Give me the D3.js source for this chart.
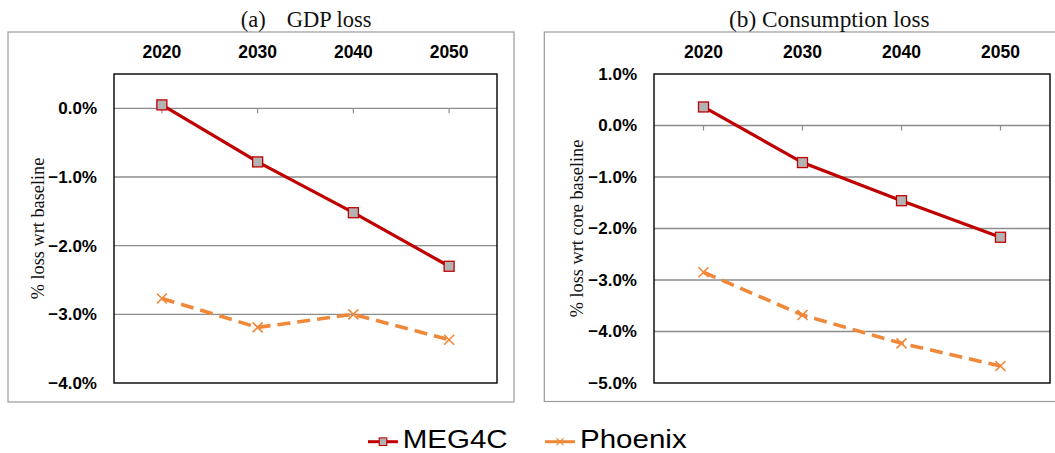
<!DOCTYPE html>
<html>
<head>
<meta charset="utf-8">
<script src="https://cdn.jsdelivr.net/npm/d3@7/dist/d3.min.js"></script>
<style>
  html, body { margin: 0; padding: 0; background: #fff; }
  svg { display: block; }
</style>
</head>
<body>
<svg id="chart" width="1055" height="453"></svg>
<script>
// Years shown along the top of both panels
const years = ["2020", "2030", "2040", "2050"];

// (a) GDP loss, % vs baseline
const gdpMEG4C   = [0.05, -0.78, -1.52, -2.30];
const gdpPhoenix = [-2.77, -3.19, -3.00, -3.37];
const gdpTicks   = [0, -1, -2, -3, -4];

// (b) Consumption loss, % vs core baseline
const consMEG4C   = [0.36, -0.72, -1.46, -2.17];
const consPhoenix = [-2.85, -3.68, -4.23, -4.67];
const consTicks   = [1, 0, -1, -2, -3, -4, -5];

const seriesNames = ["MEG4C", "Phoenix"];

const RED = "#c00000";
const ORANGE = "#f0883a";
const SANS = "Liberation Sans, Arial, sans-serif";
const SERIF = "Liberation Serif, Times New Roman, serif";

const svg = d3.select("#chart");
const pct = d3.format(".1%");

function drawPanel(p) {
  // outer frame
  svg.append("rect")
    .attr("x", p.frame[0]).attr("y", p.frame[1])
    .attr("width", p.frame[2]).attr("height", p.frame[3])
    .attr("fill", "none").attr("stroke", "#9a9a9a").attr("stroke-width", 1.2);

  // title
  p.title.forEach(t => {
    svg.append("text")
      .attr("x", t.x).attr("y", 27)
      .attr("font-family", SERIF).attr("font-size", t.size)
      .attr("fill", "#111")
      .text(t.text);
  });

  const x = d3.scaleBand().domain(years).range([p.left, p.right]).padding(0);
  const y = d3.scaleLinear().domain(p.domain).range([p.bottom, p.top]);
  const cx = d => x(d) + x.bandwidth() / 2;

  const g = svg.append("g");

  // horizontal gridlines
  g.selectAll("line.grid")
    .data(p.ticks.filter(v => v > p.domain[0] && v < p.domain[1]))
    .join("line")
    .attr("x1", p.left).attr("x2", p.right)
    .attr("y1", d => y(d)).attr("y2", d => y(d))
    .attr("stroke", "#8c8c8c").attr("stroke-width", 1.3);

  // category tick marks hanging below the zero line
  const zeroAxis = g.append("g")
    .attr("transform", `translate(0,${y(0)})`)
    .call(d3.axisBottom(x).tickSize(5).tickFormat(""));
  zeroAxis.select(".domain").remove();
  zeroAxis.selectAll(".tick line").attr("stroke", "#8c8c8c").attr("stroke-width", 1.2);

  // year labels along the top
  const topAxis = g.append("g")
    .attr("transform", `translate(0,${p.top})`)
    .call(d3.axisTop(x).tickSize(0).tickPadding(15.7));
  topAxis.select(".domain").remove();
  topAxis.selectAll("text")
    .attr("font-family", SANS).attr("font-size", 17.5)
    .attr("font-weight", "bold").attr("fill", "#000");

  // value axis labels
  const leftAxis = g.append("g")
    .attr("transform", `translate(${p.left},0)`)
    .call(d3.axisLeft(y).tickValues(p.ticks).tickSize(0).tickPadding(17)
      .tickFormat(v => pct(v / 100)));
  leftAxis.select(".domain").remove();
  leftAxis.selectAll("text")
    .attr("font-family", SANS).attr("font-size", 17)
    .attr("font-weight", "bold").attr("fill", "#000");

  // plot area border
  g.append("rect")
    .attr("x", p.left).attr("y", p.top)
    .attr("width", p.right - p.left).attr("height", p.bottom - p.top)
    .attr("fill", "none").attr("stroke", "#000").attr("stroke-width", 1.4);

  // axis title
  svg.append("text")
    .attr("transform", `translate(${p.ytitleX},${(p.top + p.bottom) / 2}) rotate(-90)`)
    .attr("text-anchor", "middle")
    .attr("font-family", SERIF).attr("font-size", 18.3)
    .attr("fill", "#111")
    .text(p.ytitle);

  const line = d3.line().x((d, i) => cx(years[i])).y(d => y(d));

  // Phoenix: dashed orange with crosses
  g.append("path")
    .datum(p.phoenix)
    .attr("d", line)
    .attr("fill", "none").attr("stroke", ORANGE)
    .attr("stroke-width", 3.6).attr("stroke-dasharray", "13,7");
  g.selectAll("path.cross")
    .data(p.phoenix)
    .join("path")
    .attr("transform", (d, i) => `translate(${cx(years[i])},${y(d)})`)
    .attr("d", "M-5,-5L5,5M-5,5L5,-5")
    .attr("stroke", ORANGE).attr("stroke-width", 1.6).attr("fill", "none");

  // MEG4C: solid red with grey squares
  g.append("path")
    .datum(p.meg4c)
    .attr("d", line)
    .attr("fill", "none").attr("stroke", RED).attr("stroke-width", 3.2);
  g.selectAll("rect.sq")
    .data(p.meg4c)
    .join("rect")
    .attr("x", (d, i) => cx(years[i]) - 5)
    .attr("y", d => y(d) - 5)
    .attr("width", 10).attr("height", 10)
    .attr("fill", "#b3b3b3").attr("stroke", RED).attr("stroke-width", 1.3);
}

drawPanel({
  frame: [8, 32, 506, 370],
  title: [{ x: 240.7, text: "(a)", size: 22.5 }, { x: 286.7, text: "GDP loss", size: 22.5 }],
  left: 114, right: 497, top: 74, bottom: 383,
  domain: [-4, 0.5],
  ticks: gdpTicks,
  meg4c: gdpMEG4C, phoenix: gdpPhoenix,
  ytitle: "% loss wrt baseline", ytitleX: 44
});

drawPanel({
  frame: [544.3, 32, 520, 369.5],
  title: [{ x: 729, text: "(b) Consumption loss", size: 23.3 }],
  left: 654, right: 1050, top: 74, bottom: 383,
  domain: [-5, 1],
  ticks: consTicks,
  meg4c: consMEG4C, phoenix: consPhoenix,
  ytitle: "% loss wrt core baseline", ytitleX: 583
});

// legend
const legend = svg.append("g");
const legY = 441.7;
const legItems = [
  { name: seriesNames[0], x0: 368, x1: 398, tx: 402.7, tw: 105, color: RED, mark: "square" },
  { name: seriesNames[1], x0: 545, x1: 575, tx: 580, tw: 106.7, color: ORANGE, mark: "cross" }
];
legItems.forEach(it => {
  legend.append("line")
    .attr("x1", it.x0).attr("x2", it.x1).attr("y1", legY).attr("y2", legY)
    .attr("stroke", it.color).attr("stroke-width", 3);
  const mx = (it.x0 + it.x1) / 2;
  if (it.mark === "square") {
    legend.append("rect")
      .attr("x", mx - 3.8).attr("y", legY - 3.8).attr("width", 7.6).attr("height", 7.6)
      .attr("fill", "#b3b3b3").attr("stroke", RED).attr("stroke-width", 1.1);
  } else {
    legend.append("path")
      .attr("d", `M${mx - 3.5},${legY - 3.5}L${mx + 3.5},${legY + 3.5}M${mx - 3.5},${legY + 3.5}L${mx + 3.5},${legY - 3.5}`)
      .attr("stroke", it.color).attr("stroke-width", 1.2).attr("fill", "none");
    // clear a small gap behind the cross
  }
  legend.append("text")
    .attr("x", it.tx).attr("y", 448.3)
    .attr("font-family", SANS).attr("font-size", 25.6)
    .attr("textLength", it.tw).attr("lengthAdjust", "spacingAndGlyphs")
    .attr("fill", "#000")
    .text(it.name);
});
</script>
</body>
</html>
